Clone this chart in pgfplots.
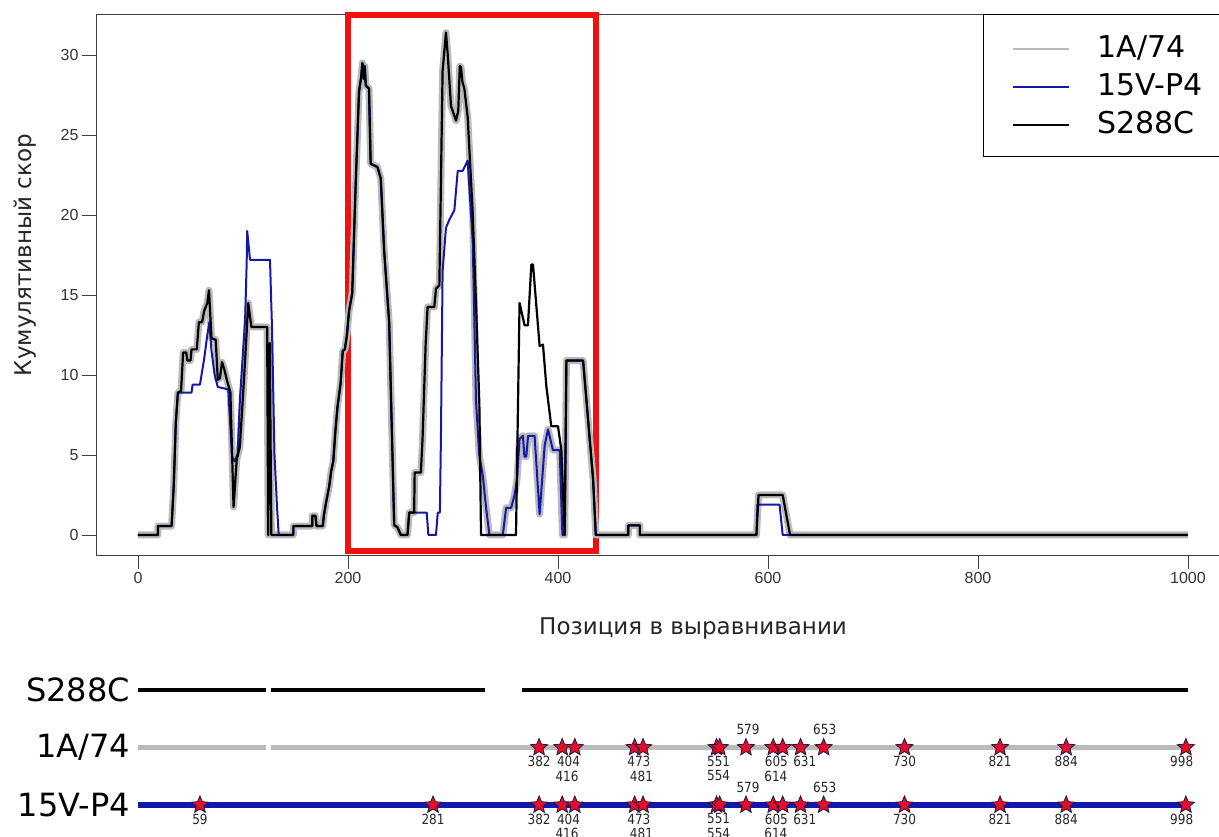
\documentclass[border=0pt]{standalone}
\usepackage{fontspec}
\setmainfont{DejaVu Sans}
\newfontfamily\arialf{Liberation Sans}
\newfontfamily\lblf[FakeStretch=0.86]{DejaVu Sans}
\usepackage{pgfplots}
\pgfplotsset{compat=1.18}
\usetikzlibrary{plotmarks}
\definecolor{lgray}{RGB}{186,186,186}
\definecolor{lblue}{RGB}{20,24,170}
\definecolor{sred}{RGB}{228,12,40}
\definecolor{snavy}{RGB}{30,20,70}
\definecolor{boxred}{RGB}{240,16,16}
\pgfdeclareplotmark{fstar}{%
 \pgfpathmoveto{\pgfpointpolar{90}{\pgfplotmarksize}}%
 \pgfpathlineto{\pgfpointpolar{126}{0.45\pgfplotmarksize}}%
 \pgfpathlineto{\pgfpointpolar{162}{\pgfplotmarksize}}%
 \pgfpathlineto{\pgfpointpolar{198}{0.45\pgfplotmarksize}}%
 \pgfpathlineto{\pgfpointpolar{234}{\pgfplotmarksize}}%
 \pgfpathlineto{\pgfpointpolar{270}{0.45\pgfplotmarksize}}%
 \pgfpathlineto{\pgfpointpolar{306}{\pgfplotmarksize}}%
 \pgfpathlineto{\pgfpointpolar{342}{0.45\pgfplotmarksize}}%
 \pgfpathlineto{\pgfpointpolar{18}{\pgfplotmarksize}}%
 \pgfpathlineto{\pgfpointpolar{54}{0.45\pgfplotmarksize}}%
 \pgfpathclose
 \pgfusepathqfillstroke
}
\begin{document}
\begin{tikzpicture}
\path[use as bounding box] (0,0) rectangle (1219pt,837pt);
\clip (0,0) rectangle (1219pt,837pt);
\begin{axis}[
 at={(96pt,282pt)}, anchor=south west, scale only axis,
 width=1134pt, height=541pt,
 xmin=-40, xmax=1040, ymin=-1.25, ymax=32.56,
 xtick={0,200,400,600,800,1000}, ytick={0,5,10,15,20,25,30},
 xtick pos=bottom, ytick pos=left,
 tick align=outside, major tick length=14pt,
 tick style={black!75, line width=0.8pt},
 axis line style={black!75, line width=0.8pt},
 /pgf/number format/assume math mode=true,
 /pgf/number format/set thousands separator={},
 scaled ticks=false,
 ticklabel style={font=\arialf\fontsize{16}{19}\selectfont, text=black!80},
 xlabel={Позиция в выравнивании},
 ylabel={Кумулятивный скор},
 xlabel style={at={(axis description cs:0.5265,-0.135)}, anchor=center, font=\fontsize{23}{27}\selectfont, text=black!85},
 ylabel style={at={(axis description cs:-0.0626,0.5545)}, anchor=center, font=\fontsize{23}{27}\selectfont, text=black!85},
 legend style={at={(axis description cs:0.7822,1)}, anchor=north west, draw=black, line width=0.8pt,
   inner xsep=28pt, inner ysep=21pt, row sep=14pt, font=\fontsize{30}{36}\selectfont,
   nodes={inner sep=0pt, text height=22pt, text depth=2pt},
   /tikz/every odd column/.append style={column sep=28pt}},
 legend cell align=left,
 legend image code/.code={\draw[#1] (0pt,-2pt) -- (56pt,-2pt);},
 clip=false,
]
\addplot[boxred, line width=5.5pt, line join=miter, forget plot] coordinates {(200,-1)(436,-1)(436,32.5)(200,32.5)(200,-1)(436,-1)};
% 1A/74
\addplot[lgray, line width=7pt, line join=round, forget plot] coordinates {
(0,0)(19,0)(19,0.56)(32,0.56)(34,3)(36,7)(38,8.9)(41,9)(43,11.4)(46,11.4)(47,10.9)(50,10.9)(51,11.6)(56,11.6)(58,13.3)(61,13.3)(63,14)(66,14.5)(67.6,15.3)(70,12.3)(74,12.2)(76,9.7)(78,9.8)(80,10.8)(82,10.4)(85,9.6)(88,8.9)(91,1.75)(94,4.7)(97,5.5)(102,10.9)(105,14.5)(108,13)(123,13)(124,0)(125.5,12)(127,0)(148,0)(148,0.56)(166,0.56)(166,1.2)(169,1.2)(170,0.56)(176,0.56)(177,1.2)(179,2)(182,3)(184,4)(186,4.6)(188,6.5)(190,8)(193,9.5)(195,11.5)(197,11.6)(199,12.5)(201,14)(204,15.1)(207.3,21.9)(210.5,27.7)(212.5,28.6)(213.7,29.5)(215,28.5)(216,29.3)(216.9,28.1)(220,27.9)(221.6,23.2)(228,23)(231.2,22.3)(234.4,17.8)(239.2,13.3)(244,0.6)(247,0.5)(250.3,0)(256.7,0)(258.3,1.4)(263,1.4)(263.5,3.9)(269.4,3.9)(271,6)(274,12)(275.8,14.25)(282.2,14.25)(283.8,15.4)(287,15.6)(288.5,22)(290.1,29)(293.3,31.4)(295,30)(298.1,26.8)(302.9,25.9)(305,26.5)(306.5,29.3)(307.6,29.25)(309,28.3)(310.8,27.9)(314,26.1)(318.8,20.1)(321.9,8.4)(325,5)(328.4,3.7)(331.5,1.7)(334.7,0)(347.4,0)(350.6,1.7)(355.4,1.7)(358.6,2.5)(361,3.5)(363.4,6)(366.6,6.2)(368,4.9)(369.8,4.9)(371.5,6.2)(377.7,6.2)(382.5,1.3)(387.3,5.6)(390.5,6.6)(393,5.9)(395.2,5.3)(401.6,5.3)(404.2,0)(406.4,0)(408,10.9)(423.9,10.9)(433.4,3.5)(436,0)(467,0)(467,0.6)(478,0.6)(478,0)(589,0)(591,2.5)(614,2.5)(621,0)(1000,0)};
% 15V-P4
\addplot[lblue, line width=2pt, line join=round, forget plot] coordinates {
(0,0)(19,0)(19,0.56)(32,0.56)(34,3)(36,7)(38,8.9)(51,8.9)(52,9.4)(59,9.4)(63,11)(66,12.5)(68,13.3)(70,11.5)(73,10)(76,9.25)(86,9.1)(89.5,4.9)(92,4.6)(95,5.1)(97,8.4)(102,13.4)(103.5,17)(104,19)(106.7,17.2)(125.7,17.2)(127.6,13)(130,5)(132.4,1.75)(134,0)(148,0)(148,0.56)(166,0.56)(166,1.2)(169,1.2)(170,0.56)(176,0.56)(177,1.2)(179,2)(182,3)(184,4)(186,4.6)(188,6.5)(190,8)(193,9.5)(195,11.5)(197,11.6)(199,12.5)(201,14)(204,15.1)(207.3,21.9)(210.5,27.7)(212.5,28.6)(213.7,29.5)(215,28.5)(216,29.3)(216.9,28.1)(220,27.9)(221.6,23.2)(228,23)(231.2,22.3)(234.4,17.8)(239.2,13.3)(244,0.6)(247,0.5)(250.3,0)(256.7,0)(258.3,1.4)(275,1.4)(276.5,0)(283.8,0)(285.5,1.4)(287.5,1.4)(288.5,6)(290.1,16.5)(293.3,19.2)(296.5,19.7)(301.3,20.3)(304.5,22.75)(309.2,22.75)(314,23.4)(318.8,18.3)(321.9,8.4)(325,5)(328.4,3.7)(331.5,1.7)(334.7,0)(347.4,0)(350.6,1.7)(355.4,1.7)(358.6,2.5)(361,3.5)(363.4,6)(366.6,6.2)(368,4.9)(369.8,4.9)(371.5,6.2)(377.7,6.2)(382.5,1.3)(387.3,5.6)(390.5,6.6)(393,5.9)(395.2,5.3)(401.6,5.3)(404.2,0)(406.4,0)(408,10.9)(423.9,10.9)(433.4,3.5)(436,0)(467,0)(467,0.6)(478,0.6)(478,0)(589,0)(590,1.9)(611,1.9)(614,0)(1000,0)};
% S288C
\addplot[black, line width=2.2pt, line join=round, forget plot] coordinates {
(0,0)(19,0)(19,0.56)(32,0.56)(34,3)(36,7)(38,8.9)(41,9)(43,11.4)(46,11.4)(47,10.9)(50,10.9)(51,11.6)(56,11.6)(58,13.3)(61,13.3)(63,14)(66,14.5)(67.6,15.3)(70,12.3)(74,12.2)(76,9.7)(78,9.8)(80,10.8)(82,10.4)(85,9.6)(88,8.9)(91,1.75)(94,4.7)(97,5.5)(102,10.9)(105,14.5)(108,13)(123,13)(124,0)(125.5,12)(127,0)(148,0)(148,0.56)(166,0.56)(166,1.2)(169,1.2)(170,0.56)(176,0.56)(177,1.2)(179,2)(182,3)(184,4)(186,4.6)(188,6.5)(190,8)(193,9.5)(195,11.5)(197,11.6)(199,12.5)(201,14)(204,15.1)(207.3,21.9)(210.5,27.7)(212.5,28.6)(213.7,29.5)(215,28.5)(216,29.3)(216.9,28.1)(220,27.9)(221.6,23.2)(228,23)(231.2,22.3)(234.4,17.8)(239.2,13.3)(244,0.6)(247,0.5)(250.3,0)(256.7,0)(258.3,1.4)(263,1.4)(263.5,3.9)(269.4,3.9)(271,6)(274,12)(275.8,14.25)(282.2,14.25)(283.8,15.4)(287,15.6)(288.5,22)(290.1,29)(293.3,31.4)(295,30)(298.1,26.8)(302.9,25.9)(305,26.5)(306.5,29.3)(307.6,29.25)(309,28.3)(310.8,27.9)(314,26.1)(318.8,20.1)(321.9,14.5)(325.1,8.2)(326.7,0)(360,0)(363.4,14.5)(368.2,13.1)(371.4,13.1)(374.6,16.9)(376.2,16.9)(382.5,11.8)(385.7,11.9)(388.9,9.3)(393.6,6.8)(400,6.8)(403.2,5.3)(406.4,0)(408,10.9)(423.9,10.9)(433.4,3.5)(436,0)(467,0)(467,0.6)(478,0.6)(478,0)(589,0)(591,2.5)(614,2.5)(621,0)(1000,0)};
\addlegendimage{lgray, line width=2pt}
\addlegendentry{1A/74}
\addlegendimage{lblue, line width=2.2pt}
\addlegendentry{15V-P4}
\addlegendimage{black, line width=2pt}
\addlegendentry{S288C}
\end{axis}
\begin{axis}[
 at={(131.7pt,3.25pt)}, anchor=south west, scale only axis,
 width=1098.3pt, height=172.5pt,
 xmin=-6, xmax=1040, ymin=0.5, ymax=3.5,
 axis line style={draw=none}, xtick=\empty,
 ytick={1,2,3}, yticklabels={15V-P4,1A/74,S288C},
 major tick length=0pt, tick style={draw=none},
 yticklabel style={font=\fontsize{32}{38}\selectfont, text=black, inner sep=0pt, xshift=-1.7pt, anchor=east},
 clip=false, unbounded coords=jump,
]
\addplot[black, line width=4pt, mark=none] coordinates {(0,3)(122,3)(124.5,nan)(127,3)(330,3)(348,nan)(366,3)(1000,3)};
\addplot[lgray, line width=5pt, mark=none] coordinates {(0,2)(122,2)(124.5,nan)(127,2)(1000,2)};
\addplot[lblue, line width=6pt, mark=none] coordinates {(0,1)(1000,1)};
\addplot[only marks, mark=fstar, mark size=9pt, mark options={fill=sred, draw=snavy, line width=0.8pt}] coordinates {
(382,2)(404,2)(416,2)(473,2)(481,2)(551,2)(554,2)(579,2)(605,2)(614,2)(631,2)(653,2)(730,2)(821,2)(884,2)(998,2)
(59,1)(281,1)(382,1)(404,1)(416,1)(473,1)(481,1)(551,1)(554,1)(579,1)(605,1)(614,1)(631,1)(653,1)(730,1)(821,1)(884,1)(998,1)};
\addplot[draw=none, mark=none, nodes near coords, point meta=explicit symbolic,
 every node near coord/.append style={font=\lblf\fontsize{14}{16}\selectfont, text=black!85, anchor=center, inner sep=0pt, yshift=-14pt}] coordinates {
(382,2)[382] (410,2)[404] (477,2)[473] (553,2)[551] (608,2)[605] (635,2)[631] (730,2)[730] (821,2)[821] (884,2)[884] (994,2)[998]
(59,1)[59] (281,1)[281] (382,1)[382] (410,1)[404] (477,1)[473] (553,1)[551] (608,1)[605] (635,1)[631] (730,1)[730] (821,1)[821] (884,1)[884] (994,1)[998]};
\addplot[draw=none, mark=none, nodes near coords, point meta=explicit symbolic,
 every node near coord/.append style={font=\lblf\fontsize{14}{16}\selectfont, text=black!85, anchor=center, inner sep=0pt, yshift=-28.5pt}] coordinates {
(408.6,2)[416] (479.5,2)[481] (553,2)[554] (607.5,2)[614]
(408.6,1)[416] (479.5,1)[481] (553,1)[554] (607.5,1)[614]};
\addplot[draw=none, mark=none, nodes near coords, point meta=explicit symbolic,
 every node near coord/.append style={font=\lblf\fontsize{14}{16}\selectfont, text=black!85, anchor=center, inner sep=0pt, yshift=18pt}] coordinates {
(581,2)[579] (654,2)[653] (581,1)[579] (654,1)[653]};
\end{axis}
\end{tikzpicture}
\end{document}
